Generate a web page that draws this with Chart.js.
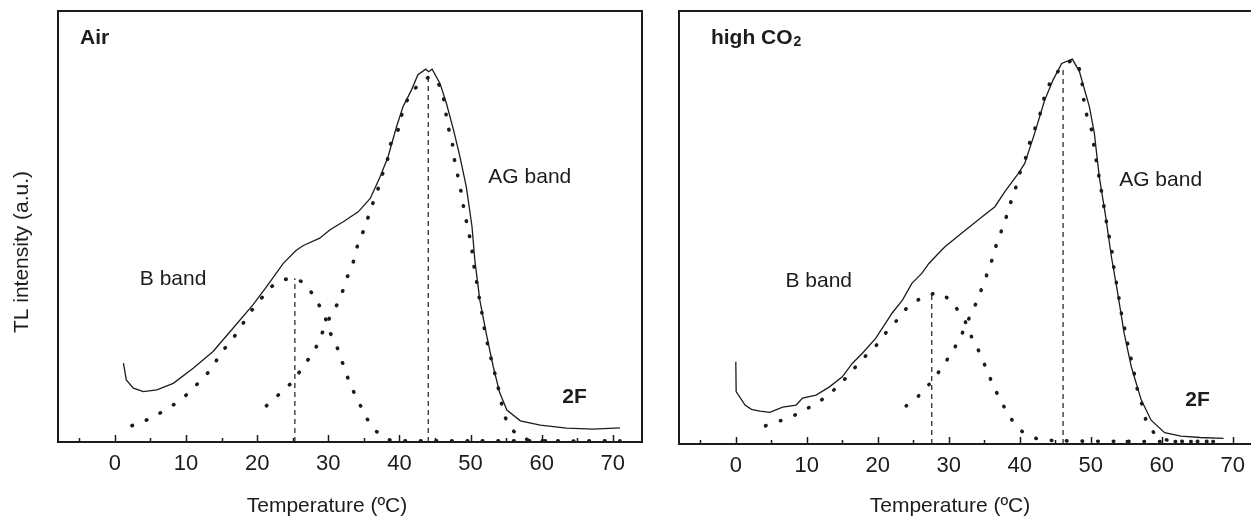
<!DOCTYPE html>
<html>
<head>
<meta charset="utf-8">
<title>TL glow curves</title>
<script src="https://cdn.jsdelivr.net/npm/chart.js@4.4.1/dist/chart.umd.min.js"></script>
<style>
  html, body { margin: 0; padding: 0; background: #fff; }
  #wrap { position: relative; width: 1254px; height: 517px; overflow: hidden; }
  canvas { position: absolute; top: 0; }
  #airChart { left: 0; }
  #co2Chart { left: 660px; }
</style>
</head>
<body>
<div id="wrap">
  <canvas id="airChart" width="660" height="517"></canvas>
  <canvas id="co2Chart" width="594" height="517"></canvas>
</div>
<script>
// --- Data (x = temperature in ºC, y = TL in a.u., 0-100) ---
const xTickValues = [0, 10, 20, 30, 40, 50, 60, 70];
const xMinorTicks = [-5, 5, 15, 25, 35, 45, 55, 65];

// Air: measured curve
const airTemp = [1.2, 1.6, 2.6, 4.0, 5.9, 8.2, 11.0, 13.8, 16.6, 19.4, 21.3, 23.7, 25.5, 26.5, 28.8, 30.2, 32.1, 34.2, 35.9, 37.3, 38.4, 39.6, 40.5, 41.7, 42.6, 43.7, 44.1, 44.6, 45.7, 46.6, 47.6, 48.5, 49.4, 50.2, 50.6, 51.3, 52.3, 53.2, 54.1, 55.1, 57.0, 59.8, 63.5, 67.2, 71.0];
const airTL = [18.3, 14.4, 12.5, 11.7, 12.1, 13.6, 17.1, 21.0, 26.4, 31.8, 36.0, 41.5, 44.5, 45.6, 47.3, 49.2, 51.1, 53.4, 56.5, 61.6, 66.2, 73.2, 77.8, 81.7, 85.2, 86.5, 85.9, 86.5, 83.2, 78.6, 72.4, 66.2, 59.2, 50.0, 42.2, 32.9, 24.4, 17.4, 11.4, 7.4, 4.9, 3.9, 3.2, 3.0, 3.3];
// Air: B band fit
const airBTemp = [2.4, 4.2, 6.0, 8.3, 10.3, 12.0, 13.6, 14.9, 16.5, 18.0, 19.4, 21.1, 22.6, 25.0, 26.7, 28.3, 29.5, 30.2, 31.3, 32.1, 32.9, 33.9, 35.0, 36.2, 38.4, 40.5, 50.0, 62.0];
const airB = [3.8, 4.9, 6.4, 8.7, 11.3, 14.2, 17.1, 20.6, 23.8, 27.5, 30.9, 34.3, 36.8, 38.0, 36.6, 32.9, 29.1, 25.6, 21.7, 17.9, 14.2, 10.5, 6.9, 3.4, 0.6, 0.3, 0.3, 0.3];
// Air: AG band fit
const airAGTemp = [21.3, 23.1, 24.9, 26.3, 27.6, 28.7, 29.5, 30.9, 31.9, 32.7, 33.6, 34.2, 35.2, 35.9, 36.8, 37.5, 38.3, 38.8, 39.9, 40.5, 41.5, 42.8, 44.6, 45.9, 46.4, 46.8, 47.4, 47.7, 48.2, 48.7, 49.1, 49.6, 50.1, 50.4, 50.8, 51.2, 51.6, 52.0, 52.5, 53.1, 53.7, 54.8, 55.9, 57.5, 60.0, 71.0];
const airAG = [8.4, 11.1, 13.9, 17.1, 20.2, 23.3, 26.8, 30.8, 34.5, 38.4, 42.2, 46.1, 50.0, 53.8, 57.7, 61.6, 65.4, 69.3, 72.8, 77.0, 80.5, 83.0, 84.8, 81.7, 77.7, 73.5, 69.7, 65.8, 61.8, 57.7, 53.7, 49.7, 45.7, 41.7, 37.7, 33.7, 29.9, 25.8, 21.9, 17.9, 14.0, 6.1, 2.8, 0.8, 0.3, 0.3];
// Air: band maxima [temperature, TL]
const airBPeak = [25.3, 38.0];
const airAGPeak = [44.05, 84.8];

// High CO2: measured curve
const co2Temp = [0.0, 0.05, 1.3, 2.2, 3.4, 4.8, 6.6, 8.5, 9.4, 11.3, 13.2, 15.0, 16.4, 17.8, 19.7, 21.1, 22.0, 23.5, 24.8, 26.2, 27.2, 29.0, 29.5, 31.8, 34.7, 36.5, 37.9, 39.8, 40.7, 42.1, 43.5, 44.7, 45.9, 47.4, 48.4, 49.8, 50.5, 51.2, 52.1, 52.9, 53.8, 54.7, 55.7, 57.1, 58.5, 60.4, 62.7, 65.4, 68.7];
const co2TL = [19.0, 12.1, 9.0, 8.0, 7.6, 7.3, 8.5, 9.0, 10.6, 11.3, 13.2, 15.5, 18.6, 20.9, 24.4, 27.9, 30.2, 33.3, 37.1, 39.4, 41.7, 44.8, 45.6, 48.7, 52.5, 54.8, 58.3, 62.5, 64.8, 71.8, 79.4, 84.1, 87.9, 88.9, 86.0, 77.9, 71.8, 61.7, 52.5, 43.3, 34.8, 25.6, 17.9, 10.2, 5.5, 2.6, 1.8, 1.5, 1.3];
// High CO2: B band fit
const co2BTemp = [4.2, 6.5, 8.6, 10.7, 12.7, 14.4, 16.2, 17.7, 19.5, 21.0, 22.7, 24.4, 26.6, 28.8, 30.8, 32.4, 33.3, 34.4, 35.3, 36.3, 37.4, 38.6, 40.1, 42.3, 44.9, 55.0, 68.0];
const co2B = [4.2, 5.5, 6.9, 8.8, 10.9, 13.4, 16.5, 19.4, 22.2, 25.4, 28.6, 31.9, 34.0, 34.8, 31.9, 28.0, 24.4, 20.9, 17.3, 13.4, 9.8, 6.3, 3.2, 1.3, 0.8, 0.6, 0.6];
// High CO2: AG band fit
const co2AGTemp = [24.0, 26.0, 27.6, 29.0, 30.4, 31.5, 32.5, 33.6, 34.5, 35.4, 36.2, 36.9, 37.8, 38.5, 39.3, 40.0, 40.9, 41.5, 42.2, 43.0, 43.6, 44.7, 46.1, 47.7, 48.6, 49.2, 50.0, 50.4, 50.8, 51.2, 52.0, 52.4, 52.9, 53.2, 53.6, 54.0, 54.4, 54.9, 55.4, 56.0, 56.4, 57.1, 57.7, 58.8, 60.8, 65.0, 69.0];
const co2AG = [8.8, 11.5, 14.5, 17.6, 21.1, 24.2, 27.8, 31.6, 35.3, 39.3, 43.1, 47.1, 50.8, 54.7, 58.5, 62.5, 66.4, 70.2, 73.1, 77.0, 80.8, 84.7, 87.1, 88.7, 85.2, 77.3, 73.3, 69.3, 65.2, 61.4, 53.4, 49.4, 45.4, 41.3, 37.3, 33.4, 29.4, 25.6, 21.5, 17.5, 13.6, 9.8, 5.9, 2.8, 0.9, 0.6, 0.6];
const co2BPeak = [27.6, 34.4];
const co2AGPeak = [46.1, 87.1];

const ink = '#1c1c1c';
const fontFamily = '"Liberation Sans", Arial, Helvetica, sans-serif';

function pts(xs, ys) {
    return xs.map((x, i) => ({ x: x, y: ys[i] }));
}

function measured(xs, ys) {
    return { data: pts(xs, ys), borderColor: ink, borderWidth: 1.3, pointRadius: 0, tension: 0 };
}

function dotted(xs, ys) {
    return {
        data: pts(xs, ys), borderColor: ink, borderWidth: 3.6, borderDash: [0.5, 15],
        borderCapStyle: 'round', pointRadius: 0, tension: 0.3
    };
}

function peakLine(peak) {
    return {
        data: [{ x: peak[0], y: 0 }, { x: peak[0], y: peak[1] }],
        borderColor: ink, borderWidth: 1.2, borderDash: [5, 4], pointRadius: 0
    };
}

// frame, inner ticks and text labels
const framePlugin = {
    id: 'frame',
    afterDraw(chart, args, opts) {
        const { ctx, chartArea: a, scales } = chart;
        const x = scales.x, y = scales.y;
        ctx.save();
        ctx.strokeStyle = ink;
        ctx.lineWidth = 2;
        ctx.beginPath();
        ctx.moveTo(a.left, a.bottom);
        ctx.lineTo(a.left, a.top);
        ctx.lineTo(a.right, a.top);
        if (opts.rightBorder) ctx.lineTo(a.right, a.bottom);
        ctx.stroke();

        ctx.lineWidth = 1.5;
        ctx.beginPath();
        xTickValues.forEach(v => {
            const px = Math.round(x.getPixelForValue(v)) + 0.5;
            ctx.moveTo(px, a.bottom);
            ctx.lineTo(px, a.bottom - 7);
        });
        xMinorTicks.forEach(v => {
            const px = Math.round(x.getPixelForValue(v)) + 0.5;
            ctx.moveTo(px, a.bottom);
            ctx.lineTo(px, a.bottom - 4);
        });
        ctx.stroke();

        ctx.fillStyle = ink;
        ctx.textBaseline = 'middle';
        ctx.textAlign = 'left';
        (opts.labels || []).forEach(l => {
            ctx.font = (l.bold ? 'bold ' : '') + '21px ' + fontFamily;
            const px = x.getPixelForValue(l.x);
            const py = y.getPixelForValue(l.y);
            ctx.fillText(l.text, px, py);
            if (l.sub) {
                const w = ctx.measureText(l.text).width;
                ctx.font = (l.bold ? 'bold ' : '') + '14px ' + fontFamily;
                ctx.fillText(l.sub, px + w + 1, py + 4);
            }
        });

        ctx.font = '21px ' + fontFamily;
        ctx.textAlign = 'center';
        if (opts.xTitle) ctx.fillText(opts.xTitle.text, opts.xTitle.x, opts.xTitle.y);
        if (opts.yTitle) {
            ctx.translate(opts.yTitle.x, opts.yTitle.y);
            ctx.rotate(-Math.PI / 2);
            ctx.fillText(opts.yTitle.text, 0, 0);
        }
        ctx.restore();
    }
};

function makeChart(id, datasets, xMax, axisHeight, padding, frameOpts) {
    return new Chart(document.getElementById(id), {
        type: 'line',
        data: { datasets: datasets },
        options: {
            responsive: false,
            animation: false,
            layout: { padding: padding },
            plugins: { legend: { display: false }, tooltip: { enabled: false }, frame: frameOpts },
            scales: {
                x: {
                    type: 'linear', min: -8, max: xMax,
                    grid: { display: false, drawTicks: false },
                    border: { display: true, color: ink, width: 2 },
                    ticks: { color: ink, font: { family: fontFamily, size: 22 }, padding: 9, maxRotation: 0, autoSkip: false },
                    afterBuildTicks: s => { s.ticks = xTickValues.map(v => ({ value: v })); },
                    afterFit: s => { s.height = axisHeight; }
                },
                y: { type: 'linear', min: 0, max: 100, display: false }
            }
        },
        plugins: [framePlugin]
    });
}

makeChart('airChart', [
    measured(airTemp, airTL),
    dotted(airBTemp, airB),
    dotted(airAGTemp, airAG),
    peakLine(airBPeak),
    peakLine(airAGPeak)
], 74.1, 75, { left: 58, right: 18, top: 11, bottom: 0 }, {
    rightBorder: true,
    labels: [
        { text: 'Air', x: -4.9, y: 93.7, bold: true },
        { text: 'B band', x: 3.5, y: 37.8 },
        { text: 'AG band', x: 52.5, y: 61.5 },
        { text: '2F', x: 62.9, y: 10.4, bold: true }
    ],
    xTitle: { text: 'Temperature (ºC)', x: 327, y: 506 },
    yTitle: { text: 'TL intensity (a.u.)', x: 22, y: 252 }
});

makeChart('co2Chart', [
    measured(co2Temp, co2TL),
    dotted(co2BTemp, co2B),
    dotted(co2AGTemp, co2AG),
    peakLine(co2BPeak),
    peakLine(co2AGPeak)
], 72.56, 73, { left: 19, right: 0, top: 11, bottom: 0 }, {
    rightBorder: false,
    labels: [
        { text: 'high CO', sub: '2', x: -3.5, y: 93.8, bold: true },
        { text: 'B band', x: 7.0, y: 37.6 },
        { text: 'AG band', x: 54.0, y: 61.0 },
        { text: '2F', x: 63.3, y: 10.2, bold: true }
    ],
    xTitle: { text: 'Temperature (ºC)', x: 290, y: 506 }
});
</script>
</body>
</html>
